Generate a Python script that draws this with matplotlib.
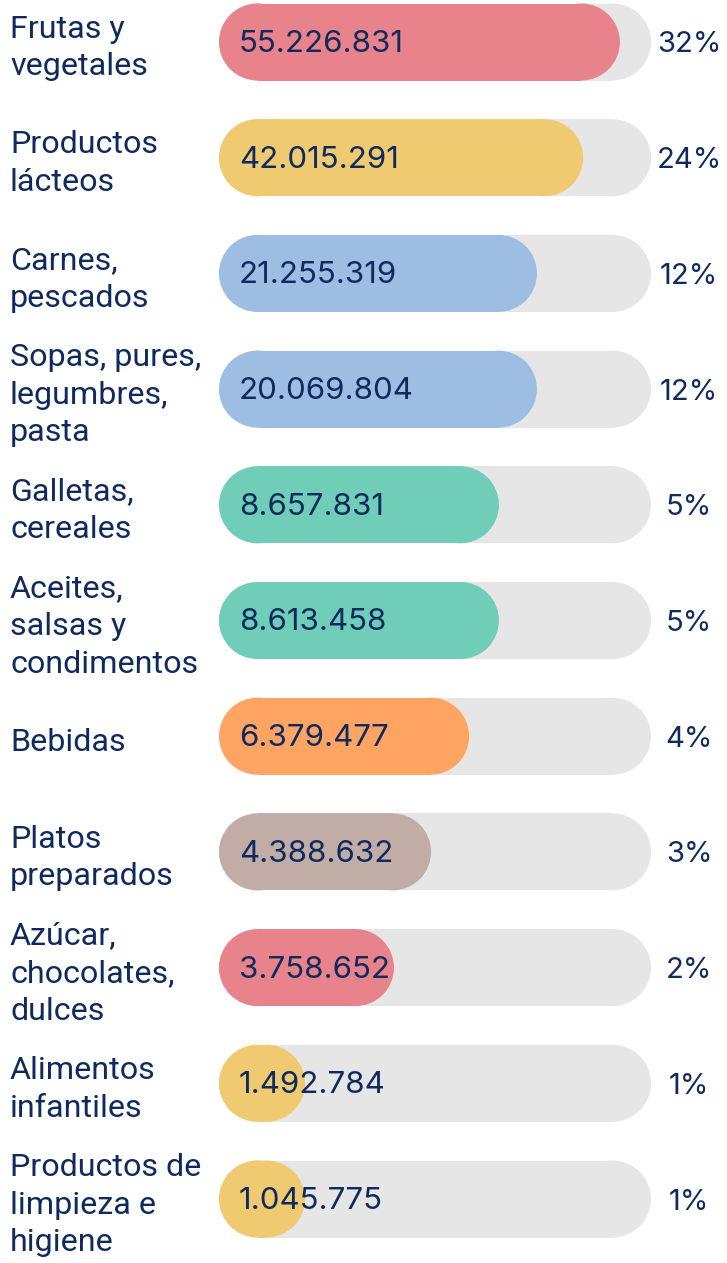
import matplotlib
matplotlib.use("Agg")
import matplotlib.pyplot as plt
from matplotlib.patches import Rectangle, Circle

labels = ["Frutas y\nvegetales", "Productos\nlácteos", "Carnes,\npescados",
          "Sopas, pures,\nlegumbres,\npasta", "Galletas,\ncereales",
          "Aceites,\nsalsas y\ncondimentos", "Bebidas", "Platos\npreparados",
          "Azúcar,\nchocolates,\ndulces", "Alimentos\ninfantiles",
          "Productos de\nlimpieza e\nhigiene"]
values = ["55.226.831", "42.015.291", "21.255.319", "20.069.804", "8.657.831",
          "8.613.458", "6.379.477", "4.388.632", "3.758.652", "1.492.784",
          "1.045.775"]
percents = ["32%", "24%", "12%", "12%", "5%", "5%", "4%", "3%", "2%", "1%", "1%"]
# visible bar length as a share of the grey track
bar_share = [0.928, 0.843, 0.736, 0.736, 0.648, 0.648, 0.579, 0.491, 0.405, 0.199, 0.199]
colors = ["#E8828B", "#F0CA70", "#9EBDE3", "#9EBDE3", "#6FCDB8", "#6FCDB8",
          "#FFA463", "#C2ADA6", "#E8828B", "#F0CA70", "#F0CA70"]

navy = "#0F2A5E"
W, H = 727, 1263
fig = plt.figure(figsize=(W / 100, H / 100), dpi=100)
ax = fig.add_axes([0, 0, 1, 1])
ax.set_xlim(0, W)
ax.set_ylim(H, 0)
ax.set_aspect("equal")
ax.axis("off")

x0, track_w, bar_h = 219, 432, 77
row0, step = 42, 115.7
r = bar_h / 2


def pill(x, yc, w, color):
    # rounded bar: a rectangle with a half circle at each end
    ax.add_patch(Rectangle((x + r, yc - r), max(w - 2 * r, 0), bar_h,
                           fc=color, ec="none", lw=0))
    ax.add_patch(Circle((x + r, yc), r, fc=color, ec="none", lw=0))
    ax.add_patch(Circle((x + w - r, yc), r, fc=color, ec="none", lw=0))


for i, lab in enumerate(labels):
    yc = row0 + i * step
    pill(x0, yc, track_w, "#E6E6E6")
    pill(x0, yc, track_w * bar_share[i], colors[i])
    ax.text(x0 + 20, yc + 2, values[i], fontsize=22.5, family="Inter",
            color=navy, va="center", ha="left")
    ax.text(689, yc + 3, percents[i], fontsize=21, family="Inter",
            color=navy, va="center", ha="center")
    ax.text(10, yc + 6, lab, fontsize=23.2, family="Roboto", color=navy,
            va="center", ha="left", linespacing=1.38)

fig.savefig("out.png", dpi=100)
